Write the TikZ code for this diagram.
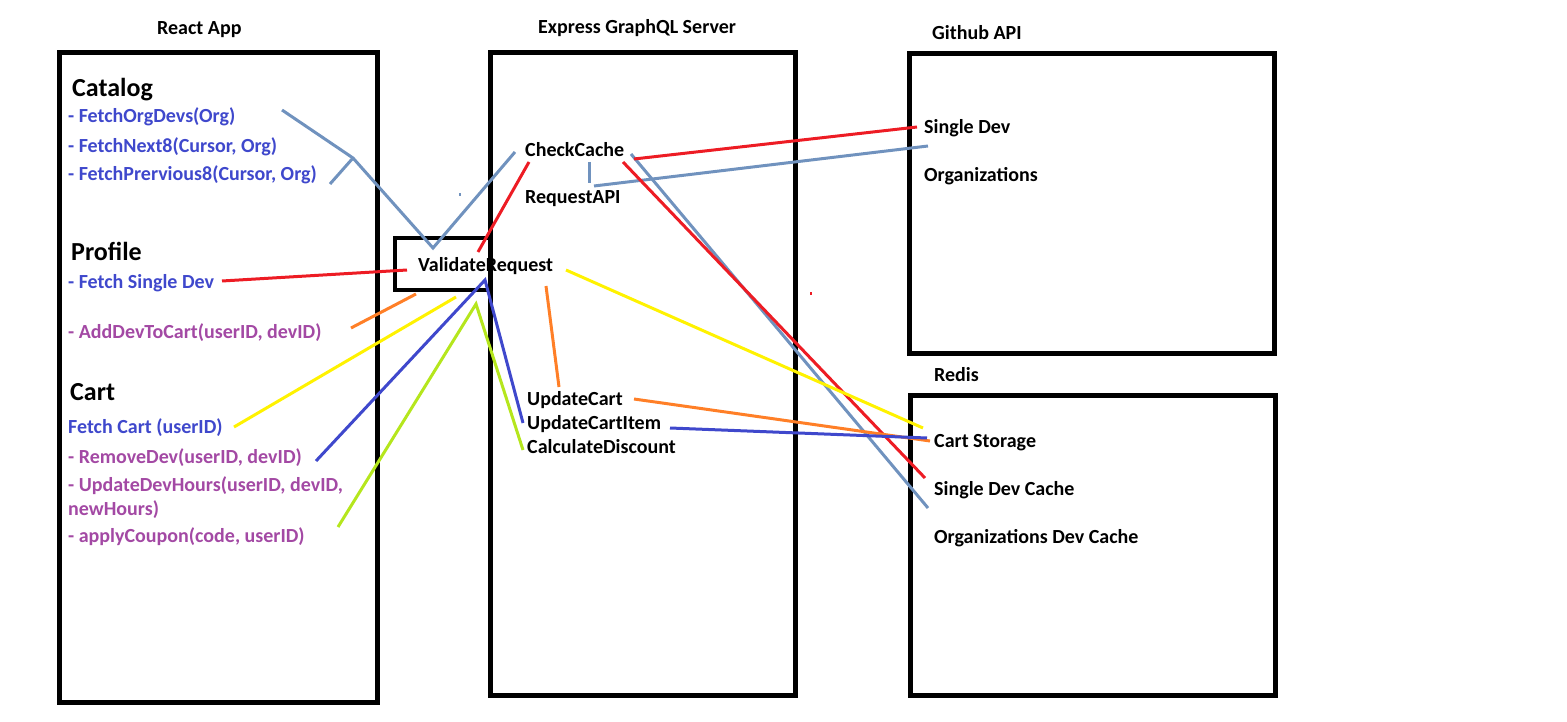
\documentclass[tikz,border=0pt]{standalone}
\usepackage{fontspec}
\setmainfont{Carlito}
\usepackage{xcolor}
\usepackage{tikz}
\definecolor{paintblue}{RGB}{63,72,204}
\definecolor{paintpurple}{RGB}{163,73,164}
\definecolor{paintred}{RGB}{237,28,36}
\definecolor{paintorange}{RGB}{255,127,39}
\definecolor{paintyellow}{RGB}{255,242,0}
\definecolor{paintlime}{RGB}{181,230,29}
\definecolor{paintsteel}{RGB}{112,146,190}

\begin{document}
\begin{tikzpicture}[x=1pt, y=-1pt,
    txt/.style={anchor=base west, inner sep=0pt, font=\fontsize{20}{23.5}\selectfont\bfseries},
    head/.style={anchor=base west, inner sep=0pt, font=\fontsize{26}{30}\selectfont\bfseries},
    query/.style={txt, text=paintblue},
    mutation/.style={txt, text=paintpurple},
    box/.style={draw, line width=5pt},
    wire/.style={line width=3pt}]
			\useasboundingbox (0,0) rectangle (1567,722);

			% the four blocks and the validation box
			\draw[box] (59.5,53) rectangle (377.5,702);
			\draw[box] (490.5,53) rectangle (795.5,695.5);
			\draw[box] (909.5,54) rectangle (1274,353);
			\draw[box] (910.5,395.5) rectangle (1275.5,695.5);
			\draw[box, line width=4.5pt] (395,238) rectangle (490.5,290);

			\node[txt] (reactTitle) at (157,35) {React App};
			\node[txt] (serverTitle) at (538,34) {Express GraphQL Server};
			\node[txt] (githubTitle) at (932,40) {Github API};
			\node[txt] (redisTitle) at (934,381) {Redis};

			% React App
			\node[head] (catalog) at (72,97) {Catalog};
			\node[query] (fetchOrg) at (68,123) {- FetchOrgDevs(Org)};
			\node[query] (fetchNext) at (68,153) {- FetchNext8(Cursor, Org)};
			\node[query] (fetchPrev) at (68,181) {- FetchPrervious8(Cursor, Org)};
			\node[head] (profile) at (71,261) {Profile};
			\node[query] (fetchDev) at (68,288) {- Fetch Single Dev};
			\node[mutation] (addDev) at (68,338) {- AddDevToCart(userID, devID)};
			\node[head] (cart) at (70,400) {Cart};
			\node[query] (fetchCart) at (68,433) {Fetch Cart (userID)};
			\node[mutation] (removeDev) at (68,463) {- RemoveDev(userID, devID)};
			\node[mutation, align=left] (updateHours) at (68,515) {- UpdateDevHours(userID, devID,\\newHours)};
			\node[mutation] (coupon) at (68,542) {- applyCoupon(code, userID)};

			% server
			\node[txt] (validate) at (418,272) {ValidateRequest};
			\node[txt] (checkCache) at (525,157) {CheckCache};
			\node[txt] (requestApi) at (525,204) {RequestAPI};
			\node[txt] (updateCart) at (527,405) {UpdateCart};
			\node[txt] (updateItem) at (527,429) {UpdateCartItem};
			\node[txt] (discount) at (527,453) {CalculateDiscount};

			% Github API and Redis
			\node[txt] (singleDev) at (924,134) {Single Dev};
			\node[txt] (orgs) at (924,182) {Organizations};
			\node[txt] (cartStore) at (934,447) {Cart Storage};
			\node[txt] (devCache) at (934,495) {Single Dev Cache};
			\node[txt] (orgCache) at (934,543) {Organizations Dev Cache};

			% line ends
			\coordinate (orgEnd) at (282,110);
			\coordinate (catKink) at (353,158);
			\coordinate (prevEnd) at (330,184);
			\coordinate (catApex) at (433,248);
			\coordinate (cacheIn) at (515,152);
			\coordinate (devEnd) at (222,281);
			\coordinate (devIn) at (407,270);
			\coordinate (cacheRed) at (478,252);
			\coordinate (cacheRedTop) at (529,162);
			\coordinate (addEnd) at (351,328);
			\coordinate (addIn) at (416,294);
			\coordinate (cartEnd) at (234,427);
			\coordinate (cartIn) at (456,297);
			\coordinate (removeEnd) at (316,461);
			\coordinate (blueApex) at (485,280);
			\coordinate (itemIn) at (523,423);
			\coordinate (couponEnd) at (338,527);
			\coordinate (limeApex) at (476,304);
			\coordinate (discountIn) at (523,450);
			\coordinate (orangeOut) at (546,286);
			\coordinate (updateIn) at (559,387);
			\coordinate (yellowOut) at (566,270);
			\coordinate (storeYellow) at (923,428);
			\coordinate (updateOut) at (634,399);
			\coordinate (storeOrange) at (930,441);
			\coordinate (itemOut) at (670,428);
			\coordinate (storeBlue) at (927,438);
			\coordinate (cacheOutA) at (634,159);
			\coordinate (singleIn) at (917,127);
			\coordinate (cacheOutB) at (623,162);
			\coordinate (devCacheIn) at (925,478);
			\coordinate (cacheOutC) at (631,154);
			\coordinate (orgCacheIn) at (928,508);
			\coordinate (apiTop) at (589,162);
			\coordinate (apiBottom) at (589,183);
			\coordinate (apiOut) at (594,186);
			\coordinate (orgsIn) at (928,146);

			% connectors
			\draw[wire, paintsteel] (orgEnd) -- (catKink) -- (catApex) -- (cacheIn);
			\draw[wire, paintsteel] (prevEnd) -- (catKink);
			\draw[wire, paintsteel] (apiTop) -- (apiBottom);
			\draw[wire, paintsteel] (apiOut) -- (orgsIn);
			\draw[wire, paintsteel] (cacheOutC) -- (orgCacheIn);
			\draw[wire, paintred] (devEnd) -- (devIn);
			\draw[wire, paintred] (cacheRed) -- (cacheRedTop);
			\draw[wire, paintred] (cacheOutA) -- (singleIn);
			\draw[wire, paintred] (cacheOutB) -- (devCacheIn);
			\draw[wire, paintorange] (addEnd) -- (addIn);
			\draw[wire, paintorange] (orangeOut) -- (updateIn);
			\draw[wire, paintorange] (updateOut) -- (storeOrange);
			\draw[wire, paintyellow] (cartEnd) -- (cartIn);
			\draw[wire, paintyellow] (yellowOut) -- (storeYellow);
			\draw[wire, paintblue] (removeEnd) -- (blueApex) -- (itemIn);
			\draw[wire, paintblue] (itemOut) -- (storeBlue);
			\draw[wire, paintlime] (couponEnd) -- (limeApex) -- (discountIn);

			% stray dots
			\fill[paintsteel] (459,193) rectangle (461,196);
			\fill[paintred] (810,292) rectangle (812,295);
		\end{tikzpicture}
\end{document}
